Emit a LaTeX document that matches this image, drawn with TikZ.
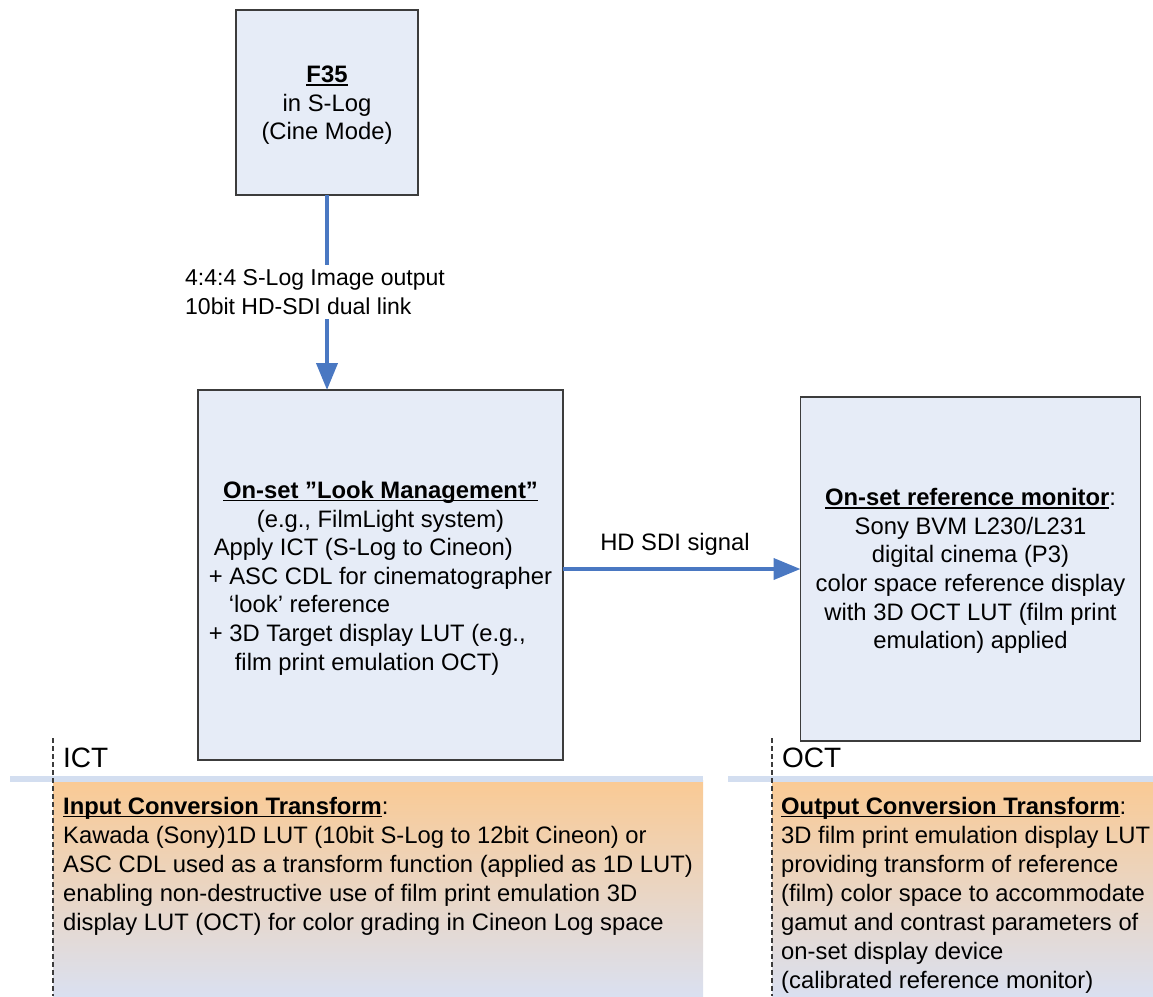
\documentclass[tikz,border=0pt]{standalone}
\usepackage{fontspec}
\setmainfont{Liberation Sans}
\usetikzlibrary{arrows.meta}
\definecolor{boxfill}{RGB}{230,236,247}
\definecolor{boxline}{RGB}{60,60,60}
\definecolor{arrowblue}{RGB}{74,120,194}
\definecolor{barblue}{RGB}{211,222,240}
\definecolor{panelorange}{RGB}{250,202,148}
\definecolor{panelblue}{RGB}{218,224,240}
\newcommand{\myul}[1]{\setbox0\hbox{#1}\rlap{\rule[-3pt]{\wd0}{1.4pt}}\box0}
\tikzset{
  block/.style={draw=boxline, line width=1.1pt, fill=boxfill, inner sep=0pt, outer sep=0pt},
  flow/.style={draw=arrowblue, line width=4pt, -{Triangle[length=27pt,width=21pt]}},
  txt/.style={font=\fontsize{23.8}{29}\selectfont, inner sep=0pt},
  boxtxt/.style={font=\fontsize{23.8}{28.6}\selectfont, inner sep=0pt, align=center},
  lbltxt/.style={font=\fontsize{23}{29.5}\selectfont, inner sep=0pt},
  big/.style={font=\fontsize{28}{32}\selectfont, inner sep=0pt},
  divider/.style={draw=boxline, line width=1.3pt, dash pattern=on 5pt off 3pt},
}
\begin{document}
\begin{tikzpicture}[x=1pt,y=-1pt]
\useasboundingbox (0,0) rectangle (1153,996);
% bottom panels
\shade[top color=panelorange, bottom color=panelblue] (53,780) rectangle (703,996);
\shade[top color=panelorange, bottom color=panelblue] (772,780) rectangle (1153,996);
\fill[barblue] (10,776) rectangle (703,782);
\fill[barblue] (728,776) rectangle (1153,782);
\draw[divider] (53,738) -- (53,996);
\draw[divider] (772,738) -- (772,996);
\node[big, anchor=base west] (ict) at (63,767) {ICT};
\node[big, anchor=base west] (oct) at (782,767) {OCT};
\node[txt, anchor=north west, align=left] (ictt) at (63,797) {\myul{\textbf{Input Conversion Transform}}:\\
Kawada (Sony)1D LUT (10bit S-Log to 12bit Cineon) or\\
ASC CDL used as a transform function (applied as 1D LUT)\\
enabling non-destructive use of film print emulation 3D\\
display LUT (OCT) for color grading in Cineon Log space};
\node[txt, anchor=north west, align=left] (octt) at (781,797) {\myul{\textbf{Output Conversion Transform}}:\\
3D film print emulation display LUT\\
providing transform of reference\\
(film) color space to accommodate\\
gamut and contrast parameters of\\
on-set display device\\
(calibrated reference monitor)};
% boxes
\node[block, minimum width=182pt, minimum height=185pt] (f35) at (327,102.5) {};
\node[boxtxt] (f35t) at ([yshift=-3pt]f35.center) {\myul{\textbf{F35}}\\in S-Log\\(Cine Mode)};
\node[block, minimum width=365pt, minimum height=370pt] (mid) at (380.5,575) {};
\node[boxtxt] (midt) at ([yshift=-3.5pt]mid.center) {%
\begin{tabular}{@{}l@{}}
\multicolumn{1}{c}{\myul{\textbf{On-set ”Look Management”}}}\\
\multicolumn{1}{c}{(e.g., FilmLight system)}\\
\hspace{5pt}Apply ICT (S-Log to Cineon)\\
+ ASC CDL for cinematographer\\
\hspace{20pt}‘look’ reference\\
+ 3D Target display LUT (e.g.,\\
\hspace{26pt}film print emulation OCT)
\end{tabular}};
\node[block, minimum width=340pt, minimum height=344pt] (rmon) at (970.5,569) {};
\node[boxtxt] (rmont) at ([yshift=-2pt]rmon.center) {\myul{\textbf{On-set reference monitor}}:\\
Sony BVM L230/L231\\
digital cinema (P3)\\
color space reference display\\
with 3D OCT LUT (film print\\
emulation) applied};
% connectors
\draw[flow] (f35.south) -- (f35.south |- mid.north);
\node[lbltxt, fill=white, align=left, inner sep=4pt, anchor=west] (lbl1) at (181,292) {4:4:4 S-Log Image output\\10bit HD-SDI dual link};
\draw[flow] (mid.east |- rmon.west) -- (rmon.west);
\node[txt, anchor=base] (lbl2) at (675,550) {HD SDI signal};
\end{tikzpicture}
\end{document}
